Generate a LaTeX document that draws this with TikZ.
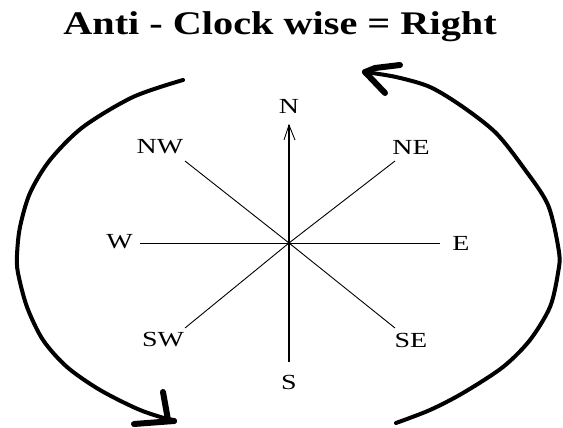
\documentclass[tikz,border=0pt]{standalone}
\usepackage{fontspec}
\setmainfont{Liberation Serif}
\newcommand{\wlbl}[1]{\scalebox{1.3}[1]{#1}}
\begin{document}
\begin{tikzpicture}[x=1pt,y=-1pt,
  lbl/.style={font=\fontsize{21.5}{21.5}\selectfont, inner sep=0pt},
  ray/.style={line width=0.9pt},
  bigarc/.style={line width=4pt, line cap=round, line join=round},
  barb/.style={line width=6pt, line cap=round, line join=round}]
\useasboundingbox (0,0) rectangle (563,428);
\node[font=\bfseries\fontsize{33}{33}\selectfont, anchor=base, inner sep=0pt] (title) at (280,35) {\scalebox{1.22}[1]{Anti - Clock wise = Right}};
\coordinate (c) at (289,243);
% compass ray ends
\coordinate (nend) at (289,125);
\coordinate (send) at (289,362);
\coordinate (wend) at (140,243);
\coordinate (eend) at (440,243);
\coordinate (nwend) at (185,161);
\coordinate (neend) at (395,161);
\coordinate (swend) at (185,328);
\coordinate (seend) at (395,328);
\node[lbl] (N) at (289,106) {\wlbl{N}};
\node[lbl] (S) at (289,382) {\wlbl{S}};
\node[lbl] (W) at (119.5,242) {\wlbl{W}};
\node[lbl] (E) at (461,243) {\wlbl{E}};
\node[lbl] (NW) at (160,147) {\wlbl{NW}};
\node[lbl] (NE) at (411,147) {\wlbl{NE}};
\node[lbl] (SW) at (163,340) {\wlbl{SW}};
\node[lbl] (SE) at (411,340) {\wlbl{SE}};
\draw[line width=1.2pt] (c) -- (nend);
\draw[line width=1.2pt] (c) -- (send);
\draw[ray] (c) -- (wend);
\draw[ray] (c) -- (eend);
\draw[ray] (c) -- (nwend);
\draw[ray] (c) -- (neend);
\draw[ray] (c) -- (swend);
\draw[ray] (c) -- (seend);
\draw[line width=0.9pt] (284,140) .. controls (286,132) .. (nend) .. controls (292,132) .. (295,140);
\fill (c) circle (1.5pt);
% left arc
\coordinate (la) at (183,80);
\coordinate (lb) at (174,421);
\draw[bigarc] plot[smooth] coordinates {(la) (133,97) (83,127) (50,160) (30,193) (20,227) (17,255) (18,273) (27,307) (43,340) (67,367) (100,390) (140,410) (lb)};
\draw[barb] (163,392) -- (168,420) -- (lb);
\draw[barb] (134,424) -- (lb);
% right arc
\coordinate (ra) at (396,423);
\coordinate (rb) at (365,72);
\draw[bigarc] plot[smooth] coordinates {(ra) (430,410) (463,393) (503,367) (530,340) (550,307) (558,273) (559,252) (548,205) (523,167) (496,133) (463,107) (430,87) (396,77) (rb)};
\draw[barb] (400,65) -- (375,68) -- (rb);
\draw[barb] (385,93) -- (rb);
\end{tikzpicture}
\end{document}
